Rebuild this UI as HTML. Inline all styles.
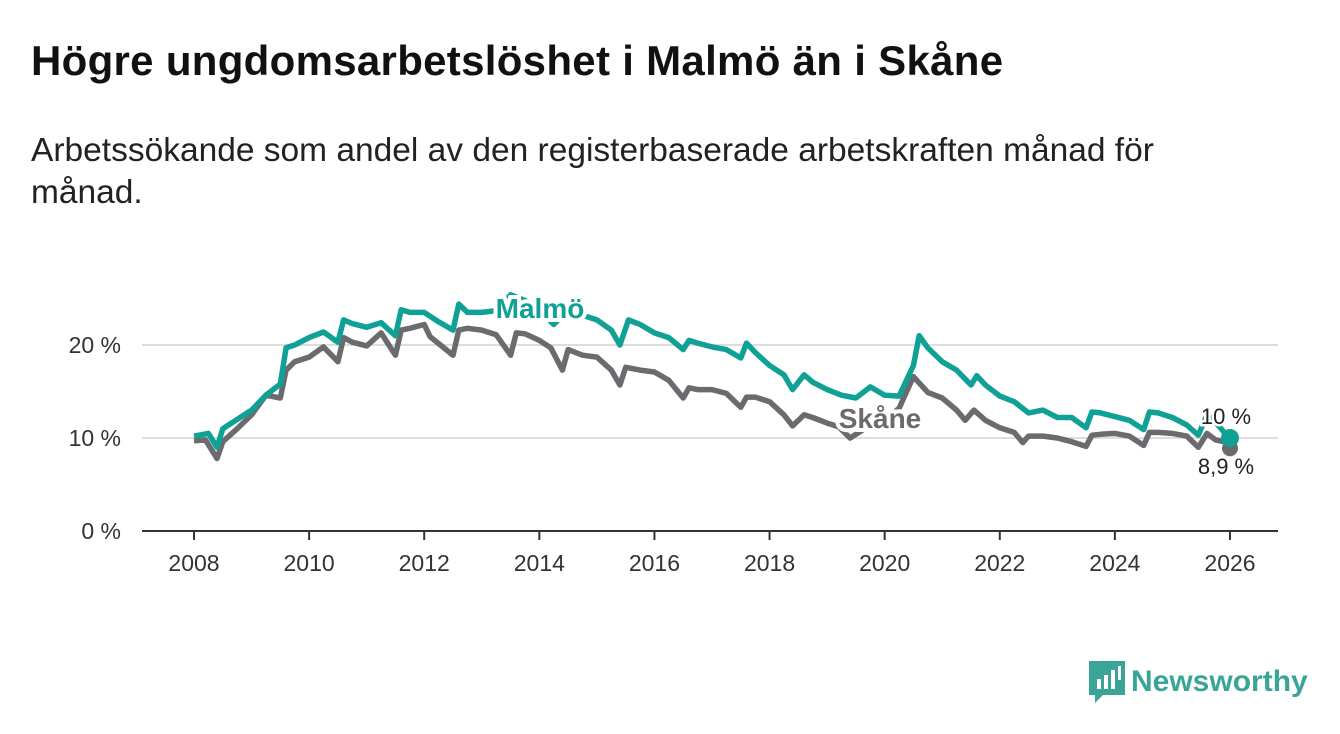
<!DOCTYPE html>
<html><head><meta charset="utf-8"><style>
body{margin:0;width:1340px;height:734px;background:#fff;font-family:"Liberation Sans",sans-serif;overflow:hidden;position:relative}
h1{position:absolute;left:31px;top:37px;margin:0;font-size:42px;font-weight:bold;color:#111;letter-spacing:0.3px}
p.sub{position:absolute;left:31px;top:130px;margin:0;font-size:33.5px;line-height:42px;color:#222;width:1180px}
svg{position:absolute;left:0;top:0}
</style></head><body>
<h1>Högre ungdomsarbetslöshet i Malmö än i Skåne</h1>
<p class="sub">Arbetssökande som andel av den registerbaserade arbetskraften månad för månad.</p>
<svg id="chart" width="1340" height="734"></svg>
<script>
const mDates=[2008,2008.25,2008.4,2008.5,2008.75,2009,2009.25,2009.5,2009.6,2009.75,2010,2010.25,2010.5,2010.6,2010.75,2011,2011.25,2011.5,2011.6,2011.75,2012,2012.25,2012.5,2012.6,2012.75,2013,2013.25,2013.5,2013.75,2014,2014.25,2014.5,2014.75,2015,2015.25,2015.4,2015.55,2015.75,2016,2016.25,2016.5,2016.6,2016.75,2017,2017.25,2017.5,2017.6,2017.75,2018,2018.25,2018.4,2018.6,2018.75,2019,2019.25,2019.5,2019.75,2020,2020.25,2020.5,2020.6,2020.75,2021,2021.25,2021.5,2021.6,2021.75,2022,2022.25,2022.5,2022.75,2023,2023.25,2023.5,2023.6,2023.75,2024,2024.25,2024.5,2024.6,2024.75,2025,2025.25,2025.45,2025.6,2025.75,2025.9,2026.0];
const malmo=[10.2,10.5,9.0,11,12,13,14.6,15.8,19.7,20,20.8,21.4,20.3,22.7,22.3,21.9,22.4,21,23.8,23.5,23.5,22.5,21.6,24.4,23.5,23.5,23.7,25.4,24.8,23.8,22.2,23.8,23.2,22.7,21.6,20,22.7,22.2,21.3,20.8,19.5,20.5,20.2,19.8,19.5,18.6,20.2,19.2,17.8,16.8,15.2,16.8,16,15.2,14.6,14.3,15.5,14.6,14.5,17.8,21,19.7,18.2,17.3,15.7,16.7,15.7,14.5,13.9,12.7,13,12.2,12.2,11.1,12.8,12.7,12.3,11.9,10.9,12.8,12.7,12.2,11.4,10.3,12.5,11.7,10.6,10.0];
const sDates=[2008,2008.2,2008.4,2008.5,2008.75,2009,2009.25,2009.5,2009.6,2009.75,2010,2010.25,2010.5,2010.6,2010.75,2011,2011.25,2011.5,2011.6,2011.75,2012,2012.1,2012.5,2012.6,2012.75,2013,2013.25,2013.5,2013.6,2013.75,2014,2014.2,2014.4,2014.5,2014.75,2015,2015.25,2015.4,2015.5,2015.75,2016,2016.25,2016.5,2016.6,2016.75,2017,2017.25,2017.5,2017.6,2017.75,2018,2018.25,2018.4,2018.6,2018.75,2019,2019.2,2019.4,2019.75,2020,2020.25,2020.5,2020.75,2021,2021.25,2021.4,2021.55,2021.75,2022,2022.25,2022.4,2022.5,2022.75,2023,2023.25,2023.5,2023.6,2023.75,2024,2024.25,2024.5,2024.6,2024.75,2025,2025.25,2025.45,2025.6,2025.75,2025.9,2026.0];
const skane=[9.7,9.8,7.8,9.6,11,12.5,14.6,14.3,17.3,18.2,18.7,19.8,18.2,20.8,20.3,19.9,21.3,18.9,21.6,21.8,22.2,20.9,18.9,21.6,21.8,21.6,21.1,18.9,21.3,21.2,20.5,19.7,17.3,19.5,18.9,18.7,17.3,15.7,17.6,17.3,17.1,16.2,14.3,15.4,15.2,15.2,14.8,13.3,14.4,14.4,13.9,12.5,11.3,12.5,12.2,11.6,11.2,10,11.4,11.9,13.2,16.6,14.9,14.3,13,11.9,13,11.9,11.1,10.6,9.5,10.2,10.2,10,9.6,9.1,10.3,10.4,10.5,10.2,9.2,10.6,10.6,10.5,10.2,9.0,10.5,9.8,9.6,8.9];
const yTicks=[0,10,20];
const xTicks=[2008,2010,2012,2014,2016,2018,2020,2022,2024,2026];
const NS="http://www.w3.org/2000/svg";
const svg=document.getElementById('chart');
const X=v=>194+(v-2008)*(1230-194)/18;
const Y=v=>531-v*9.3;
function mk(t,a){const e=document.createElementNS(NS,t);for(const k in a)e.setAttribute(k,a[k]);svg.appendChild(e);return e;}
yTicks.forEach(t=>{
  const g=mk('line',{x1:142,x2:1278,y1:Y(t),y2:Y(t),stroke:t===0?'#333':'#ddd','stroke-width':2});
  
  
  const l=mk('text',{x:121,y:Y(t)+8,'text-anchor':'end','font-size':23,fill:'#333'});l.textContent=t+' %';
  
  
});
xTicks.forEach(t=>{
  const k=mk('line',{x1:X(t),x2:X(t),y1:531,y2:540,stroke:'#333','stroke-width':2});
  
  
  const l=mk('text',{x:X(t),y:571,'text-anchor':'middle','font-size':23,fill:'#333'});l.textContent=t;
  
  
});
function path(d,v){return d.map((x,i)=>(i?'L':'M')+X(x).toFixed(1)+','+Y(v[i]).toFixed(1)).join('');}
const ps=mk('path',{d:path(sDates,skane),fill:'none',stroke:'#6b6a6e','stroke-width':5.5,'stroke-linejoin':'round'});


const pm=mk('path',{d:path(mDates,malmo),fill:'none',stroke:'#10a196','stroke-width':5.5,'stroke-linejoin':'round'});


const ds=mk('circle',{cx:X(sDates[sDates.length-1]),cy:Y(skane[skane.length-1]),r:8,fill:'#6b6a6e'});


const dm=mk('circle',{cx:X(mDates[mDates.length-1]),cy:Y(malmo[malmo.length-1]),r:9,fill:'#10a196'});


const lm=mk('text',{x:540,y:318,'text-anchor':'middle','font-size':28,'font-weight':'bold',fill:'#10a196',stroke:'#fff','stroke-width':8,'paint-order':'stroke'});lm.textContent='Malmö';


const ls=mk('text',{x:880,y:428,'text-anchor':'middle','font-size':28,'font-weight':'bold',fill:'#6b6a6e',stroke:'#fff','stroke-width':8,'paint-order':'stroke'});ls.textContent='Skåne';


const em=mk('text',{x:1226,y:424,'text-anchor':'middle','font-size':22,fill:'#222',stroke:'#fff','stroke-width':5,'paint-order':'stroke'});em.textContent='10 %';


const es=mk('text',{x:1226,y:474,'text-anchor':'middle','font-size':22,fill:'#222'});es.textContent='8,9 %';


</script>
<div style="position:absolute;left:1089px;top:661px;display:flex;align-items:center">
<svg width="36" height="42" viewBox="0 0 36 42" style="position:static"><path d="M0 0H36V34H14L6 42V34H0Z" fill="#3aa597"/><rect x="8" y="18" width="4" height="10" fill="#fff"/><rect x="15" y="14" width="4" height="14" fill="#fff"/><rect x="22" y="9" width="4" height="19" fill="#fff"/><rect x="29" y="5" width="3" height="14" fill="#fff"/></svg>
<span style="font-size:30px;color:#3aa597;margin-left:6px;font-weight:bold">Newsworthy</span></div>
</body></html>
